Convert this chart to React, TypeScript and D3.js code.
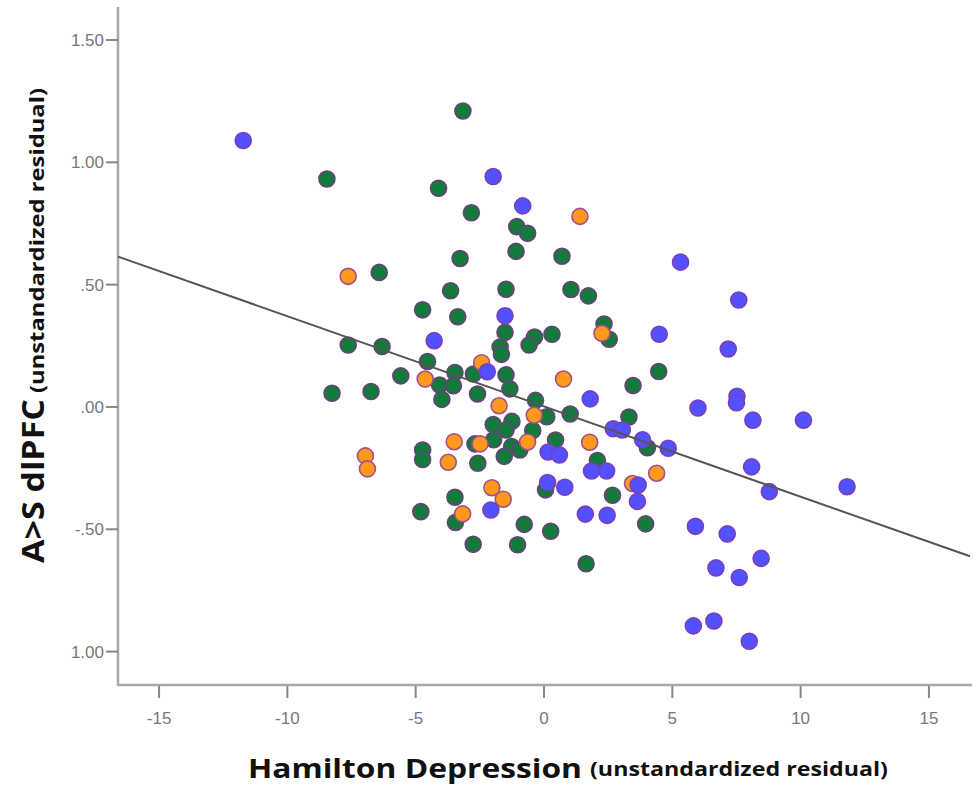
import React from "react";
import * as d3 from "d3";

// Data (x: Hamilton Depression residual, y: A>S dlPFC residual)
const greenX = [-3.16,-8.46,-4.11,-2.83,-3.27,-6.42,-3.64,-4.73,-3.36,-7.63,-6.31,-4.54,-3.47,-2.75,-5.58,-8.26,-6.74,-4.07,-3.53,-3.98,-2.59,-1.06,-0.64,-1.09,0.70,-1.48,1.05,1.73,-1.52,-0.37,-0.58,0.31,2.34,2.54,-1.71,-1.66,-1.48,4.47,3.47,-1.33,-0.33,0.11,1.02,3.31,-1.98,-1.25,-1.96,-1.48,-0.44,-1.26,-1.55,-0.94,0.45,-2.69,-4.73,-4.73,-2.58,4.03,2.08,0.06,2.67,-3.47,-4.80,-3.45,-2.76,-1.03,-0.77,0.26,1.64,3.96];
const greenY = [1.21,0.932,0.894,0.794,0.607,0.55,0.475,0.397,0.369,0.253,0.247,0.186,0.141,0.135,0.127,0.056,0.063,0.09,0.087,0.031,0.053,0.737,0.71,0.636,0.616,0.481,0.48,0.454,0.305,0.286,0.253,0.297,0.339,0.277,0.245,0.215,0.131,0.145,0.088,0.074,0.027,-0.04,-0.029,-0.041,-0.072,-0.059,-0.134,-0.094,-0.096,-0.162,-0.202,-0.176,-0.135,-0.151,-0.176,-0.215,-0.23,-0.167,-0.219,-0.339,-0.361,-0.369,-0.428,-0.472,-0.561,-0.563,-0.48,-0.508,-0.641,-0.478];

const orangeX = [-7.63,1.40,-2.43,-4.63,0.76,2.26,-1.75,-0.38,-0.64,-2.49,-3.50,1.78,-6.96,-6.88,-3.73,4.39,-2.03,-1.59,-3.17,3.45];
const orangeY = [0.534,0.779,0.181,0.114,0.114,0.301,0.005,-0.034,-0.143,-0.151,-0.142,-0.144,-0.2,-0.253,-0.226,-0.271,-0.33,-0.377,-0.437,-0.313];

const blueX = [-11.72,-1.98,-0.83,5.32,7.59,-1.52,4.49,-4.28,7.18,-2.21,1.80,6.00,7.52,7.50,8.14,10.11,2.70,3.05,3.84,4.84,0.16,0.60,1.85,2.44,8.09,0.14,0.81,3.67,3.64,8.78,11.81,-2.07,1.61,2.46,5.90,7.14,8.46,6.70,7.61,5.82,6.62,8.00];
const blueY = [1.089,0.942,0.822,0.592,0.437,0.373,0.297,0.271,0.237,0.144,0.033,-0.004,0.044,0.017,-0.054,-0.054,-0.089,-0.094,-0.134,-0.169,-0.184,-0.196,-0.262,-0.262,-0.245,-0.309,-0.328,-0.319,-0.386,-0.346,-0.326,-0.421,-0.438,-0.443,-0.488,-0.519,-0.619,-0.658,-0.697,-0.895,-0.875,-0.958];

const xTicks = [-15, -10, -5, 0, 5, 10, 15];
const xTickLabels = ["-15", "-10", "-5", "0", "5", "10", "15"];
const yTicks = [1.5, 1.0, 0.5, 0.0, -0.5, -1.0];
const yTickLabels = ["1.50", "1.00", ".50", ".00", "-.50", "1.00"];

const fitIntercept = 0.002;
const fitSlope = -0.0369;

const W = 974;
const H = 786;

export default function App() {
  const x = d3.scaleLinear().domain([-16.6, 16.6]).range([118, 970]);
  const y = d3.scaleLinear().domain([-1.1366, 1.635]).range([685, 7]);
  const [x0, x1] = x.domain();
  const line = d3.line<number>().x((d) => x(d)).y((d) => y(fitIntercept + fitSlope * d));

  const series = [
    { xs: greenX, ys: greenY, fill: "#127a3a", stroke: "#6b3f7c" },
    { xs: orangeX, ys: orangeY, fill: "#ff981c", stroke: "#a0508a" },
    { xs: blueX, ys: blueY, fill: "#5350ff", stroke: "#7a3fb8" },
  ];

  const tickFont = "'Liberation Sans Narrow', 'Arial Narrow', 'Liberation Sans', sans-serif";
  const titleFont = "'Open Sans', 'Noto Sans', sans-serif";

  return (
    <svg width={W} height={H} style={{ position: "absolute", left: 0, top: 0, background: "#fff" }}>
      <rect x={0} y={0} width={W} height={H} fill="#fff" />
      {/* axes */}
      <line x1={118} y1={7} x2={118} y2={686} stroke="#a8a8a8" strokeWidth={2.5} />
      <line x1={117} y1={685} x2={972} y2={685} stroke="#a8a8a8" strokeWidth={2.5} />
      {yTicks.map((t, i) => (
        <g key={"y" + i}>
          <line x1={106} x2={118} y1={y(t)} y2={y(t)} stroke="#888" strokeWidth={2} />
          <text x={104} y={y(t) + 6} textAnchor="end" fontFamily={tickFont} fontSize={17} fill="#777">
            {yTickLabels[i]}
          </text>
        </g>
      ))}
      {xTicks.map((t, i) => (
        <g key={"x" + i}>
          <line x1={x(t)} x2={x(t)} y1={686} y2={698} stroke="#888" strokeWidth={2} />
          <text x={x(t)} y={724} textAnchor="middle" fontFamily={tickFont} fontSize={17} fill="#777">
            {xTickLabels[i]}
          </text>
        </g>
      ))}
      {/* points */}
      {series.map((s, si) => (
        <g key={"s" + si}>
          {s.xs.map((v, i) => (
            <circle key={i} cx={x(v)} cy={y(s.ys[i])} r={8} fill={s.fill} stroke={s.stroke} strokeWidth={1.6} />
          ))}
        </g>
      ))}
      {/* fit line */}
      <path d={line([x0, x1]) || ""} fill="none" stroke="#555" strokeWidth={2} />
      {/* x title */}
      <text x={248} y={778} fontFamily={titleFont} fontWeight={700} fontSize={27} fill="#111" textLength={334} lengthAdjust="spacingAndGlyphs">
        Hamilton Depression
      </text>
      <text x={590} y={776} fontFamily={titleFont} fontWeight={700} fontSize={19} fill="#111" textLength={298} lengthAdjust="spacingAndGlyphs">
        (unstandardized  residual)
      </text>
      {/* y title */}
      <text transform="translate(44,563) rotate(-90)" fontFamily={titleFont} fontWeight={700} fontSize={31} fill="#111" textLength={164} lengthAdjust="spacingAndGlyphs">
        A&gt;S dlPFC
      </text>
      <text transform="translate(44,393) rotate(-90)" fontFamily={titleFont} fontWeight={700} fontSize={20} fill="#111" textLength={305} lengthAdjust="spacingAndGlyphs">
        (unstandardized  residual)
      </text>
    </svg>
  );
}
